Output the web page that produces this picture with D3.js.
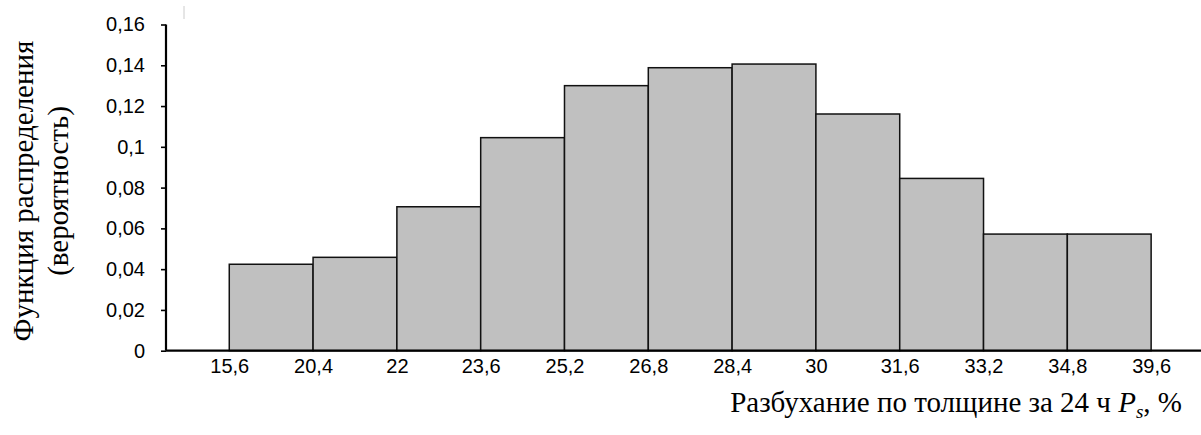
<!DOCTYPE html>
<html>
<head>
<meta charset="utf-8">
<script src="https://cdn.jsdelivr.net/npm/d3@7"></script>
<style>
  body { margin: 0; background: #fff; }
  .tick-label { font-family: "Liberation Sans", Arial, sans-serif; font-size: 20px; fill: #000; }
  .title { font-family: "Liberation Serif", "Times New Roman", serif; font-size: 29px; fill: #000; }
</style>
</head>
<body>
<div id="chart"></div>
<script>
// bin edges (x tick labels) and frequency of each bin
var edgeLabels = ["15,6", "20,4", "22", "23,6", "25,2", "26,8", "28,4", "30", "31,6", "33,2", "34,8", "39,6"];
var freq = [0.0424, 0.0458, 0.0706, 0.1045, 0.130, 0.1388, 0.1406, 0.1161, 0.0845, 0.0572, 0.0572];
var yTicks = [0, 0.02, 0.04, 0.06, 0.08, 0.1, 0.12, 0.14, 0.16];

var w = 1201, h = 435;

var svg = d3.select("#chart").append("svg")
    .attr("width", w)
    .attr("height", h);

// Scales: x works on bin-edge index
var x = d3.scaleLinear().domain([-0.755, 11.595]).range([166, 1201]);
var y = d3.scaleLinear().domain([0, 0.16]).range([350.7, 24.5]);

// Bars
svg.selectAll("rect.bar")
    .data(freq)
  .enter().append("rect")
    .attr("class", "bar")
    .attr("x", function(d, i) { return x(i); })
    .attr("y", function(d) { return y(d); })
    .attr("width", function(d, i) { return x(i + 1) - x(i); })
    .attr("height", function(d) { return y(0) - y(d); })
    .attr("fill", "#c0c0c0")
    .attr("stroke", "#111")
    .attr("stroke-width", 1.5);

// Y axis
var yAxis = svg.append("g")
    .attr("transform", "translate(" + x.range()[0] + ",0)")
    .call(d3.axisLeft(y)
        .tickValues(yTicks)
        .tickSize(5)
        .tickPadding(16)
        .tickFormat(function(d) { return String(+d.toFixed(2)).replace(".", ","); }));
yAxis.select(".domain").attr("stroke", "#000").attr("stroke-width", 2.2)
    .attr("d", "M0," + y(0.16) + "V" + y(0));
yAxis.selectAll(".tick line").attr("stroke", "#000").attr("stroke-width", 1.6);
yAxis.selectAll(".tick text").attr("class", "tick-label").attr("font-size", null).attr("font-family", null);

// X axis (labels at bin edges, no tick marks)
var xAxis = svg.append("g")
    .attr("transform", "translate(0," + y(0) + ")")
    .call(d3.axisBottom(x)
        .tickValues(d3.range(edgeLabels.length))
        .tickSize(0)
        .tickPadding(8)
        .tickFormat(function(d) { return edgeLabels[d]; }));
xAxis.select(".domain").attr("stroke", "#000").attr("stroke-width", 2.2)
    .attr("d", "M" + x.range()[0] + ",0H" + x.range()[1]);
xAxis.selectAll(".tick text").attr("class", "tick-label").attr("font-size", null).attr("font-family", null);

// stray mark at top
svg.append("line")
    .attr("x1", 184).attr("x2", 184)
    .attr("y1", 6).attr("y2", 19)
    .attr("stroke", "#ccc").attr("stroke-width", 1);

// Axis titles
var yt = svg.append("text")
    .attr("class", "title")
    .attr("text-anchor", "middle")
    .attr("transform", "translate(33,191) rotate(-90)");
yt.append("tspan").attr("x", 0).attr("y", 0).text("Функция распределения");
yt.append("tspan").attr("x", 0).attr("y", 35).text("(вероятность)");

var xt = svg.append("text")
    .attr("class", "title")
    .attr("text-anchor", "end")
    .attr("x", 1182)
    .attr("y", 412);
xt.append("tspan").text("Разбухание по толщине за 24 ч ");
xt.append("tspan").attr("font-style", "italic").text("P");
xt.append("tspan").attr("font-style", "italic").attr("font-size", "19px").attr("dy", 6).text("s");
xt.append("tspan").attr("dy", -6).text(", %");
</script>
</body>
</html>
